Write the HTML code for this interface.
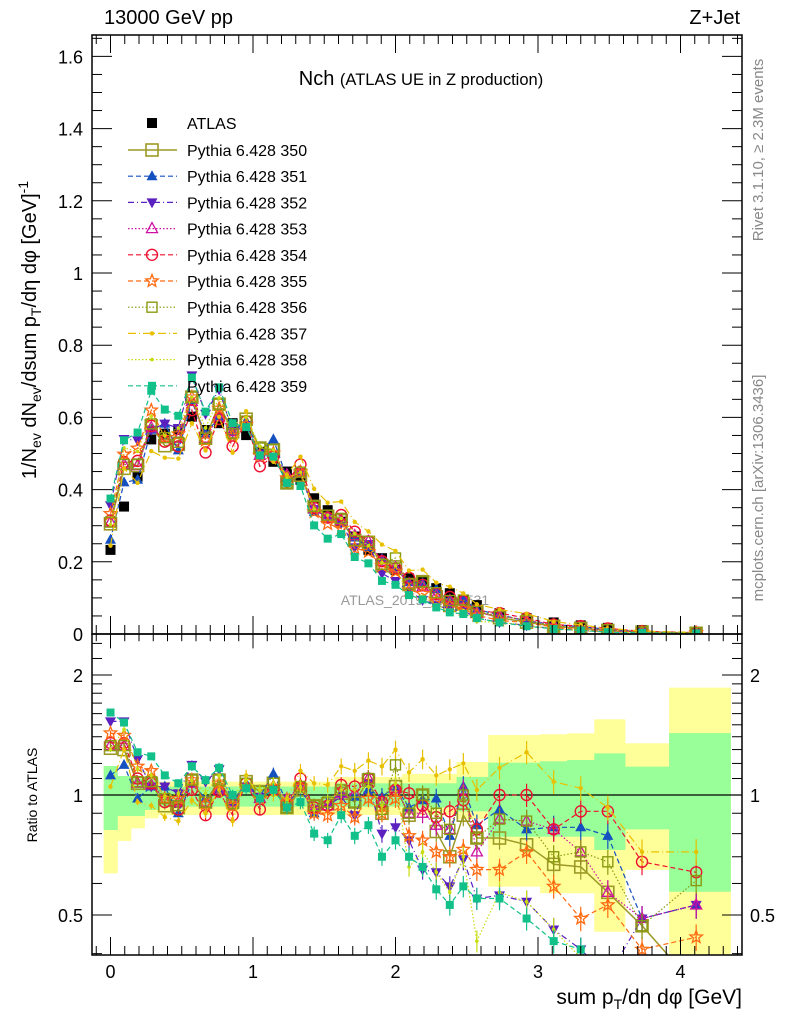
<!DOCTYPE html>
<html><head><meta charset="utf-8"><style>
html,body{margin:0;padding:0;background:#fff}
svg{display:block;font-family:"Liberation Sans",sans-serif}
</style></head><body>
<svg id="chart" width="786" height="1024" viewBox="0 0 786 1024" xmlns="http://www.w3.org/2000/svg">
<defs>
<clipPath id="cm"><rect x="92" y="35" width="650" height="599"/></clipPath>
<clipPath id="cr"><rect x="92" y="634" width="650" height="321"/></clipPath>
</defs>
<text x="104" y="24" font-size="20">13000 GeV pp</text>
<text x="740" y="24" font-size="20" text-anchor="end">Z+Jet</text>
<text x="421" y="85" text-anchor="middle" font-size="20">Nch <tspan font-size="16.5">(ATLAS UE in Z production)</tspan></text>
<text x="415" y="605" text-anchor="middle" font-size="14" fill="#999">ATLAS_2019_I1736531</text>
<text transform="translate(763,150) rotate(-90)" text-anchor="middle" font-size="15" fill="#888">Rivet 3.1.10, ≥ 2.3M events</text>
<text transform="translate(763,488) rotate(-90)" text-anchor="middle" font-size="15" fill="#888">mcplots.cern.ch [arXiv:1306.3436]</text>
<text transform="translate(36,330) rotate(-90)" text-anchor="middle" font-size="20">1/N<tspan font-size="14" dy="5">ev</tspan><tspan dy="-5"> dN</tspan><tspan font-size="14" dy="5">ev</tspan><tspan dy="-5">/dsum p</tspan><tspan font-size="14" dy="5">T</tspan><tspan dy="-5">/dη dφ  [GeV]</tspan><tspan font-size="14" dy="-8">-1</tspan></text>
<text transform="translate(37,795) rotate(-90)" text-anchor="middle" font-size="14">Ratio to ATLAS</text>
<text x="742" y="1004" text-anchor="end" font-size="21">sum p<tspan font-size="14" dy="5">T</tspan><tspan dy="-5">/dη dφ [GeV]</tspan></text>
<g id="gBand" clip-path="url(#cr)"></g>
<g id="gRatio" clip-path="url(#cr)"></g>
<g id="gMain" clip-path="url(#cm)"></g>
<g id="gAxes"></g>
<g id="gLegend"></g>
</svg>
<script>
const xs=[0,0.095,0.19,0.286,0.381,0.476,0.571,0.667,0.762,0.857,0.952,1.048,1.143,1.238,1.333,1.429,1.524,1.619,1.714,1.81,1.905,2.0,2.095,2.19,2.286,2.381,2.476,2.571,2.73,2.92,3.11,3.30,3.49,3.73,4.11];
const atlas=[0.233,0.353,0.436,0.539,0.555,0.565,0.602,0.565,0.584,0.584,0.551,0.505,0.477,0.45,0.427,0.376,0.343,0.311,0.27,0.233,0.21,0.177,0.154,0.145,0.127,0.113,0.094,0.08,0.058,0.044,0.032,0.024,0.017,0.011,0.006];
const statHi=[1.182,1.116,1.10,1.10,1.05,1.05,1.05,1.05,1.05,1.05,1.05,1.05,1.05,1.05,1.05,1.05,1.05,1.07,1.07,1.07,1.07,1.07,1.07,1.07,1.07,1.07,1.11,1.11,1.205,1.205,1.215,1.224,1.272,1.178,1.43];
const statLo=[0.817,0.886,0.886,0.917,0.935,0.935,0.935,0.935,0.935,0.935,0.935,0.935,0.935,0.935,0.935,0.935,0.935,0.935,0.935,0.935,0.935,0.935,0.93,0.93,0.93,0.93,0.91,0.91,0.786,0.786,0.786,0.786,0.728,0.82,0.572];
const totHi=[1.182,1.116,1.10,1.10,1.08,1.08,1.08,1.08,1.08,1.08,1.08,1.08,1.08,1.08,1.08,1.08,1.08,1.11,1.11,1.11,1.11,1.11,1.13,1.13,1.13,1.13,1.21,1.21,1.414,1.414,1.42,1.428,1.548,1.348,1.859];
const totLo=[0.636,0.767,0.825,0.874,0.891,0.891,0.891,0.891,0.891,0.891,0.891,0.891,0.891,0.891,0.891,0.891,0.891,0.891,0.891,0.891,0.891,0.891,0.89,0.89,0.89,0.89,0.87,0.87,0.589,0.589,0.567,0.567,0.454,0.649,0.39];
const r350=[1.31,1.30,1.07,1.07,0.94,0.93,1.09,0.96,1.09,0.96,1.08,1.02,1.07,0.93,1.03,0.94,0.95,1.01,0.96,1.09,0.90,1.05,0.89,1.00,0.81,0.70,0.89,0.78,0.78,0.75,0.67,0.66,0.57,0.47,0.33];
const r351=[1.12,1.19,0.98,1.05,1.05,0.90,1.07,0.98,1.03,0.96,1.07,0.99,1.13,0.96,1.04,0.90,0.96,1.01,0.99,1.03,0.99,1.05,0.93,0.97,0.98,0.79,1.05,0.84,0.92,0.82,0.83,0.83,0.79,0.49,0.53];
const r352=[1.53,1.53,1.23,1.05,1.05,1.01,1.19,1.08,1.16,0.96,1.05,0.99,1.03,0.94,1.05,0.92,0.94,0.99,0.89,1.07,0.80,0.83,0.77,0.65,0.64,0.59,0.69,0.55,0.56,0.54,0.46,0.41,0.35,0.49,0.53];
const r353=[1.33,1.33,1.07,1.06,0.98,0.96,1.07,0.96,1.03,0.96,1.05,0.98,1.05,0.98,1.05,0.92,0.94,1.01,1.01,1.10,0.96,1.04,0.90,0.90,0.84,0.82,1.03,0.72,0.87,0.86,0.82,0.72,0.57,0.49,0.53];
const r354=[1.35,1.35,1.10,1.07,0.96,0.92,1.03,0.89,1.02,0.89,1.07,0.92,1.03,0.94,1.10,0.93,0.94,1.06,1.05,1.10,0.96,1.03,1.01,0.94,0.88,0.91,0.97,0.82,1.00,1.00,0.82,0.91,0.91,0.68,0.64];
const r355=[1.43,1.41,1.18,1.15,0.98,0.98,1.09,0.95,1.07,0.94,1.05,0.98,1.05,0.96,1.05,0.90,0.89,0.94,0.88,0.98,0.90,0.98,0.79,0.77,0.72,0.70,0.73,0.65,0.65,0.72,0.59,0.49,0.53,0.41,0.44];
const r356=[1.33,1.33,1.08,1.08,0.98,0.94,1.09,0.96,1.09,0.95,1.07,1.02,1.07,0.93,1.05,0.94,0.96,1.03,0.96,1.10,0.92,1.19,0.90,1.00,0.90,0.82,1.00,0.78,0.87,0.86,0.70,0.72,0.68,0.47,0.61];
const r357=[1.05,1.30,0.96,0.94,0.88,0.86,0.97,0.90,1.03,0.86,1.12,0.98,1.00,0.98,1.15,1.07,1.06,1.18,1.15,1.22,1.18,1.30,1.14,1.23,1.12,1.16,1.20,1.03,1.17,1.28,1.08,1.04,0.93,0.72,0.72];
const r358=[1.30,1.46,1.16,1.12,0.99,1.01,1.09,1.01,1.12,0.99,1.09,1.03,1.07,0.96,1.05,0.92,0.96,1.03,1.03,1.05,0.94,1.07,0.66,0.72,0.64,0.57,0.70,0.43,0.57,0.54,0.46,0.39,0.30,0.30,0.30];
const r359=[1.61,1.52,1.28,1.25,1.12,1.07,1.18,1.09,1.17,1.00,1.04,0.98,1.03,0.93,0.96,0.80,0.77,0.89,0.79,0.84,0.70,0.77,0.70,0.66,0.58,0.53,0.59,0.55,0.55,0.49,0.43,0.41,0.30,0.30,0.30];
const seriesNames=["350","351","352","353","354","355","356","357","358","359"];
const ratios=[r350,r351,r352,r353,r354,r355,r356,r357,r358,r359];
const mainTicks=[0,0.2,0.4,0.6,0.8,1,1.2,1.4,1.6];
const mainTickLabels=["0","0.2","0.4","0.6","0.8","1","1.2","1.4","1.6"];
const xTicks=[0,1,2,3,4];
const ratioTicks=[0.5,1,2];
const ratioTickLabels=["0.5","1","2"];

const styles=[
 {c:"#9c9a26",m:"sqOpen",d:"",w:1.5},
 {c:"#1450c0",m:"triUp",d:"5,3",w:1.2},
 {c:"#5a20c0",m:"triDown",d:"6,3,1,3",w:1.2},
 {c:"#cc10a0",m:"triOpen",d:"1.5,2",w:1.2},
 {c:"#ee1030",m:"circ",d:"5,3",w:1.2},
 {c:"#ff6a10",m:"star",d:"5,3",w:1.2},
 {c:"#8a9a10",m:"sqOpenS",d:"1.5,2",w:1.2},
 {c:"#e8c000",m:"dotS",d:"8,3,1,3",w:1.2},
 {c:"#c8dc10",m:"dot",d:"1.5,2",w:1.2},
 {c:"#12c08a",m:"sqFill",d:"5,3",w:1.2}
];
const NS="http://www.w3.org/2000/svg";
const X=v=>110.5+142.5*v;
const YM=v=>634-361*v;
const YR=r=>795-398.7*Math.log10(Math.max(r,0.05));
function el(tag,attrs,parent){const e=document.createElementNS(NS,tag);for(const k in attrs)e.setAttribute(k,attrs[k]);parent.appendChild(e);return e;}
function marker(type,x,y,c,g){
  let e;
  if(type==="sqFillBlack"){e=el("rect",{x:x-5,y:y-5,width:10,height:10,fill:"#000"},g);}
  else if(type==="sqOpen"){e=el("rect",{x:x-6,y:y-6,width:12,height:12,fill:"none",stroke:c,"stroke-width":1.6},g);}
  else if(type==="sqOpenS"){e=el("rect",{x:x-5,y:y-5,width:10,height:10,fill:"none",stroke:c,"stroke-width":1.4},g);}
  else if(type==="sqFill"){e=el("rect",{x:x-4,y:y-4,width:8,height:8,fill:c},g);}
  else if(type==="triUp"){e=el("polygon",{points:`${x},${y-6} ${x-5.5},${y+4} ${x+5.5},${y+4}`,fill:c},g);}
  else if(type==="triDown"){e=el("polygon",{points:`${x},${y+6} ${x-5.5},${y-4} ${x+5.5},${y-4}`,fill:c},g);}
  else if(type==="triOpen"){e=el("polygon",{points:`${x},${y-6} ${x-5.5},${y+4} ${x+5.5},${y+4}`,fill:"none",stroke:c,"stroke-width":1.3},g);}
  else if(type==="circ"){e=el("circle",{cx:x,cy:y,r:5.5,fill:"none",stroke:c,"stroke-width":1.4},g);}
  else if(type==="star"){let p=[];for(let k=0;k<10;k++){const a=-Math.PI/2+k*Math.PI/5,rr=k%2?2.8:6.5;p.push((x+rr*Math.cos(a)).toFixed(1)+","+(y+rr*Math.sin(a)).toFixed(1));}e=el("polygon",{points:p.join(" "),fill:"none",stroke:c,"stroke-width":1.3},g);}
  else if(type==="dotS"){e=el("circle",{cx:x,cy:y,r:2.2,fill:c},g);}
  else {e=el("circle",{cx:x,cy:y,r:1.8,fill:c},g);}
  return e;
}
const gBand=document.getElementById("gBand"),gRatio=document.getElementById("gRatio"),gMain=document.getElementById("gMain"),gAxes=document.getElementById("gAxes"),gLeg=document.getElementById("gLegend");
const edges=[xs[0]-0.048];
for(let i=0;i<xs.length-1;i++)edges.push((xs[i]+xs[i+1])/2);
edges.push(4.35);
for(let i=0;i<xs.length;i++){
  const a=X(edges[i]),b=X(edges[i+1]);
  const ty=el("rect",{x:a,y:YR(totHi[i]),width:b-a+0.5,height:YR(totLo[i])-YR(totHi[i]),fill:"#ffff99"},gBand);
  
  
}
for(let i=0;i<xs.length;i++){
  const a=X(edges[i]),b=X(edges[i+1]);
  const sg=el("rect",{x:a,y:YR(statHi[i]),width:b-a+0.5,height:YR(statLo[i])-YR(statHi[i]),fill:"#99ff99"},gBand);
  
  
}
const unity=el("line",{x1:92,x2:742,y1:YR(1),y2:YR(1),stroke:"#000","stroke-width":1.3},gBand);


for(let i=0;i<xs.length;i++){
  const m=marker("sqFillBlack",X(xs[i]),YM(atlas[i]),"#000",gMain);
  
  
}
ratios.forEach((r,s)=>{
  const st=styles[s];
  const gm=el("g",{},gMain),gr=el("g",{},gRatio);
  
  
  
  
  const pm=xs.map((x,i)=>X(x).toFixed(1)+","+YM(atlas[i]*r[i]).toFixed(1)).join(" ");
  const pr=xs.map((x,i)=>X(x).toFixed(1)+","+YR(r[i]).toFixed(1)).join(" ");
  el("polyline",{points:pm,fill:"none",stroke:st.c,"stroke-width":st.w,"stroke-dasharray":st.d},gm);
  el("polyline",{points:pr,fill:"none",stroke:st.c,"stroke-width":st.w,"stroke-dasharray":st.d},gr);
  xs.forEach((x,i)=>{
    const err=0.015+0.0018*i;
    el("line",{x1:X(x),x2:X(x),y1:YR(r[i]*(1+err)),y2:YR(r[i]*(1-err)),stroke:st.c,"stroke-width":1.2},gr);
    marker(st.m,X(x),YM(atlas[i]*r[i]),st.c,gm);
    marker(st.m,X(x),YR(r[i]),st.c,gr);
  });
});
function line(x1,y1,x2,y2,w){return el("line",{x1,y1,x2,y2,stroke:"#000","stroke-width":w||1},gAxes);}
const f1=el("rect",{x:92,y:35,width:650,height:599,fill:"none",stroke:"#000","stroke-width":1.5},gAxes);


const f2=el("rect",{x:92,y:634,width:650,height:321,fill:"none",stroke:"#000","stroke-width":1.5},gAxes);


for(let k=-1;k<=44;k++){const v=k/10,px=X(v);if(px<92||px>742)continue;const major=k%10===0;const L=major?18:9;
  line(px,634,px,634-L);line(px,634,px,634+L*0.8);line(px,35,px,35+L);line(px,955,px,955-L);}
xTicks.forEach((v,i)=>{const t=el("text",{x:X(v),y:978,"text-anchor":"middle","font-size":18},gAxes);t.textContent=String(v);
  
  });
for(let k=0;k<=33;k++){const v=k*0.05,py=YM(v);if(py<35)continue;const L=k%4===0?20:10;line(92,py,92+L,py);line(742,py,742-L,py);}
mainTicks.forEach((v,i)=>{const t=el("text",{x:83,y:YM(v)+7,"text-anchor":"end","font-size":18},gAxes);t.textContent=mainTickLabels[i];
  
  });
const minorR=[0.4,0.6,0.7,0.8,0.9,1.1,1.2,1.3,1.4,1.5,1.6,1.7,1.8,1.9,2.2,2.4];
minorR.forEach(r=>{const py=YR(r);line(92,py,102,py);line(742,py,732,py);});
ratioTicks.forEach((r,i)=>{const py=YR(r);line(92,py,112,py);line(742,py,722,py);
  const t=el("text",{x:83,y:py+7,"text-anchor":"end","font-size":18},gAxes);t.textContent=ratioTickLabels[i];
  
  
  const t2=el("text",{x:750,y:py+7,"font-size":18},gAxes);t2.textContent=ratioTickLabels[i];
  
  });
const leg0=el("g",{},gLeg);


marker("sqFillBlack",152,123,"#000",leg0);
const lt=el("text",{x:187,y:129,"font-size":16},leg0);lt.textContent="ATLAS";
styles.forEach((st,s)=>{
  const y=150+26.2*s;
  const g=el("g",{},gLeg);
  
  
  el("line",{x1:128,x2:177,y1:y,y2:y,stroke:st.c,"stroke-width":st.w,"stroke-dasharray":st.d},g);
  marker(st.m,152,y,st.c,g);
  const t=el("text",{x:187,y:y+6,"font-size":16},g);t.textContent="Pythia 6.428 "+seriesNames[s];
});
</script>
</body></html>
